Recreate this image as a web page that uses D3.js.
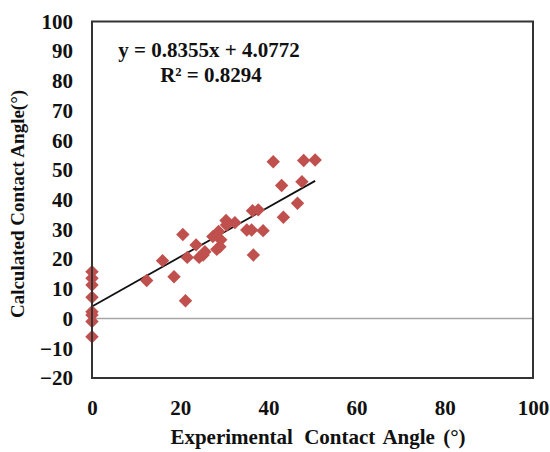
<html>
<head>
<title>Calculated vs Experimental Contact Angle</title>
<script src="https://d3js.org/d3.v7.min.js"></script>
<style>
  body { margin: 0; background: #fff; }
  text { font-family: "Liberation Serif", "Times New Roman", serif; font-weight: bold; fill: #111; }
</style>
</head>
<body>
<script>
// data (experimental angle, calculated angle)
var expAngle  = [0, 0, 0, 0, 0, 0, 0, 0,
                 12.4, 16.0, 18.6, 20.6, 21.2, 21.6, 23.6, 24.3, 25.2, 27.4, 28.3, 28.7,
                 29.2, 30.4, 30.5, 32.4, 35.1, 36.2, 36.4, 37.7, 36.6, 38.8, 41.1, 43.0,
                 43.4, 46.6, 47.6, 48.0, 50.6, 25.6, 29.0];
var calcAngle = [15.8, 13.6, 11.3, 7.2, 2.3, 1.2, -1.0, -6.1,
                 12.8, 19.5, 14.1, 28.3, 6.0, 20.6, 24.8, 20.6, 21.4, 27.6, 23.3, 29.3,
                 26.5, 33.0, 31.5, 32.3, 29.8, 29.8, 36.3, 36.6, 21.4, 29.6, 52.8, 44.8,
                 34.1, 38.8, 46.1, 53.2, 53.4, 22.5, 24.2];
var xTicks = [0, 20, 40, 60, 80, 100];
var yTicks = [-20, -10, 0, 10, 20, 30, 40, 50, 60, 70, 80, 90, 100];
var slope = 0.8355, intercept = 4.0772;
var eqText = "y = 0.8355x + 4.0772";
var r2Text = "R² = 0.8294";

var w = 550, h = 452;
var plotL = 92, plotR = 533, plotT = 21.5, plotB = 378;

var svg = d3.select("body").append("svg")
    .attr("width", w)
    .attr("height", h);

var x = d3.scaleLinear().domain([0, 100]).range([plotL, plotR]);
var y = d3.scaleLinear().domain([-20, 100]).range([plotB, plotT]);

// zero line
svg.append("line")
    .attr("x1", x(0)).attr("x2", x(100))
    .attr("y1", y(0)).attr("y2", y(0))
    .attr("stroke", "#a6a6a6").attr("stroke-width", 1.5);

// axes, labels only
var xAxis = svg.append("g")
    .attr("transform", "translate(0," + (plotB + 22) + ")")
    .call(d3.axisBottom(x).tickValues(xTicks).tickSize(0).tickPadding(0));
xAxis.select(".domain").remove();
xAxis.selectAll("text").attr("font-size", 21).attr("font-family", "Liberation Serif").attr("fill", "#111");

var yAxis = svg.append("g")
    .attr("transform", "translate(" + (plotL - 19) + ",0)")
    .call(d3.axisLeft(y).tickValues(yTicks).tickSize(0).tickPadding(0));
yAxis.select(".domain").remove();
yAxis.selectAll("text").attr("font-size", 21).attr("font-family", "Liberation Serif").attr("fill", "#111");

// trend line
svg.append("line")
    .attr("x1", x(0)).attr("y1", y(intercept))
    .attr("x2", x(d3.max(expAngle))).attr("y2", y(slope * d3.max(expAngle) + intercept))
    .attr("stroke", "#111").attr("stroke-width", 1.8);

// diamonds
var diamond = d3.symbol().type(d3.symbolSquare).size(90);
svg.selectAll("path.pt")
    .data(expAngle)
    .enter()
    .append("path")
    .attr("class", "pt")
    .attr("d", diamond)
    .attr("fill", "#c0504d")
    .attr("transform", function(d, i) {
        return "translate(" + x(d) + "," + y(calcAngle[i]) + ") rotate(45)";
    });

// plot frame
svg.append("rect")
    .attr("x", plotL).attr("y", plotT)
    .attr("width", plotR - plotL).attr("height", plotB - plotT)
    .attr("fill", "none").attr("stroke", "#333").attr("stroke-width", 2);

// equation
svg.append("text")
    .attr("x", 209).attr("y", 57)
    .attr("text-anchor", "middle").attr("font-size", 21)
    .text(eqText);
svg.append("text")
    .attr("x", 211).attr("y", 82)
    .attr("text-anchor", "middle").attr("font-size", 21)
    .text(r2Text);

// axis titles
var xt = svg.append("text")
    .attr("x", 318).attr("y", 444)
    .attr("text-anchor", "middle").attr("font-size", 21)
    .attr("word-spacing", 3);
xt.append("tspan").text("Experimental");
xt.append("tspan").attr("dx", 3).text(" Contact Angle (°)");
svg.append("text")
    .attr("transform", "translate(24," + 204 + ") rotate(-90)")
    .attr("text-anchor", "middle").attr("font-size", 19)
    .text("Calculated Contact Angle(°)");
</script>
</body>
</html>
